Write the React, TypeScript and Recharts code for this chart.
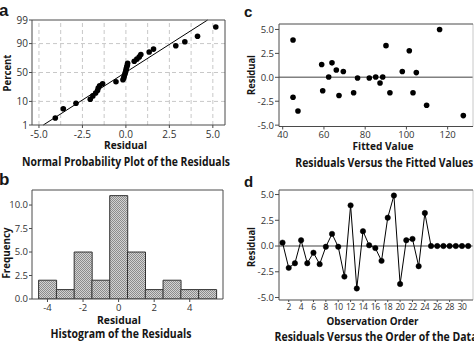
import React from 'react';
import {
  ScatterChart, Scatter, XAxis, YAxis, ReferenceLine, BarChart, Bar, LineChart, Line,
} from 'recharts';

// ---------------- data ----------------
// (a) normal probability plot: sorted residuals and their plotting percents
const probResiduals = [-4.06, -3.6, -2.87, -2.05, -1.9, -1.74, -1.63, -1.59, -1.51, -1.34, -0.57,
  -0.17, -0.12, -0.1, -0.06, -0.03, 0.0, 0.02, 0.05, 0.08, 0.1,
  0.48, 0.63, 0.77, 0.86, 1.34, 1.59, 2.87, 3.39, 4.12, 5.17];
const probPercents = [2.2, 5.4, 8.6, 11.8, 15.0, 18.2, 21.3, 24.5, 27.7, 30.9, 34.1, 37.3, 40.4,
  43.6, 46.8, 50.0, 53.2, 56.4, 59.6, 62.7, 65.9, 69.1, 72.3, 75.5, 78.7, 81.8, 85.0, 88.2,
  91.4, 94.6, 97.8];
const fitLineResidual = [-4.75, 4.7];
const fitLinePercent = [1, 99];
const aXTicks = [-5, -2.5, 0, 2.5, 5];
const aYTickPercents = [1, 10, 50, 90, 99];
const aGridX = [-5, -3.75, -2.5, -1.25, 0, 1.25, 2.5, 3.75, 5];
const aGridPercents = [10, 50, 90];

// (b) histogram
const histBins = [-4, -3, -2, -1, 0, 1, 2, 3, 4, 5];
const histCounts = [2, 1, 5, 2, 11, 5, 1, 2, 1, 1];
const bXTicks = [-4, -2, 0, 2, 4];
const bYTicks = [0, 2.5, 5, 7.5, 10];

// (c) residuals vs fitted
const fittedValues = [45, 45, 47.4, 58.9, 59.4, 62.3, 63.9, 66, 67.3, 69.4, 74.4, 76.3, 82, 85.1,
  87.2, 88.5, 90.1, 92, 98, 101.4, 103.2, 104.8, 109.8, 116.1, 127.6];
const fittedResiduals = [3.9, -2.08, -3.52, 1.34, -1.41, 0.03, 1.51, 0.77, -1.9, 0.6, -1.62, -0.07,
  -0.07, 0.03, -0.6, 0.03, 3.31, -1.62, 0.6, 2.78, -1.62, 0.49, -2.92, 5.0, -4.0];
const cXTicks = [40, 60, 80, 100, 120];
const cYTicks = [-5, -2.5, 0, 2.5, 5];

// (d) residuals vs order
const observationOrder = [1, 2, 3, 4, 5, 6, 7, 8, 9, 10, 11, 12, 13, 14, 15, 16, 17, 18, 19, 20,
  21, 22, 23, 24, 25, 26, 27, 28, 29, 30, 31];
const orderResiduals = [0.33, -2.12, -1.67, 0.56, -1.67, -0.65, -1.76, -0.07, 1.18, -0.07, -2.97,
  3.95, -4.12, 1.44, 0.07, -0.2, -1.44, 2.75, 4.9, -3.69, 0.56, 0.69, -1.96, 3.2,
  0, 0, 0, 0, 0, 0, 0];
const dXTicks = [2, 4, 6, 8, 10, 12, 14, 16, 18, 20, 22, 24, 26, 28, 30];
const dYTicks = [-5, -2.5, 0, 2.5, 5];

// ---------------- helpers ----------------
function probit(p: number): number {
  const a = [-3.969683028665376e+01, 2.209460984245205e+02, -2.759285104469687e+02, 1.383577518672690e+02, -3.066479806614716e+01, 2.506628277459239e+00];
  const b = [-5.447609879822406e+01, 1.615858368580409e+02, -1.556989798598866e+02, 6.680131188771972e+01, -1.328068155288572e+01];
  const c = [-7.784894002430293e-03, -3.223964580411365e-01, -2.400758277161838e+00, -2.549732539343734e+00, 4.374664141464968e+00, 2.938163982698783e+00];
  const d = [7.784695709041462e-03, 3.224671290700398e-01, 2.445134137142996e+00, 3.754408661907416e+00];
  const pl = 0.02425, ph = 1 - pl;
  let q: number, r: number;
  if (p < pl) {
    q = Math.sqrt(-2 * Math.log(p));
    return (((((c[0] * q + c[1]) * q + c[2]) * q + c[3]) * q + c[4]) * q + c[5]) / ((((d[0] * q + d[1]) * q + d[2]) * q + d[3]) * q + 1);
  }
  if (p <= ph) {
    q = p - 0.5; r = q * q;
    return (((((a[0] * r + a[1]) * r + a[2]) * r + a[3]) * r + a[4]) * r + a[5]) * q / (((((b[0] * r + b[1]) * r + b[2]) * r + b[3]) * r + b[4]) * r + 1);
  }
  q = Math.sqrt(-2 * Math.log(1 - p));
  return -(((((c[0] * q + c[1]) * q + c[2]) * q + c[3]) * q + c[4]) * q + c[5]) / ((((d[0] * q + d[1]) * q + d[2]) * q + d[3]) * q + 1);
}

const W = 474, H = 344;
const YW = 30, XH = 24;
const FONT = "'Open Sans', 'DejaVu Sans', sans-serif";
const LETTER_FONT = "'Liberation Sans', Arial, sans-serif";
const FRAME = '#4a4a4a';

type Rect = { x1: number; y1: number; x2: number; y2: number };
const marginFor = (r: Rect) => ({ top: r.y1, left: r.x1 - YW, right: W - r.x2, bottom: H - r.y2 - XH });

const RA: Rect = { x1: 32, y1: 20, x2: 225, y2: 125 };
const RB: Rect = { x1: 32, y1: 190, x2: 223, y2: 299 };
const RC: Rect = { x1: 279, y1: 24, x2: 473, y2: 126.5 };
const RD: Rect = { x1: 279, y1: 190, x2: 473, y2: 300 };

const XA: [number, number] = [-5.4, 5.7];
const YA: [number, number] = [probit(0.01), probit(0.99)];
const XB: [number, number] = [-4.87, 5.87];
const YB: [number, number] = [0, 11.6];
const XC: [number, number] = [38.2, 132.3];
const YC: [number, number] = [-5.14, 5.57];
const XD: [number, number] = [0.43, 31.78];
const YD: [number, number] = [-5.24, 5.44];

const aData = probResiduals.map((x, i) => ({ x, z: probit(probPercents[i] / 100) }));
const aYTicks = aYTickPercents.map((p) => probit(p / 100));
const bData = histBins.map((bin, i) => ({ bin, count: histCounts[i] }));
const cData = fittedValues.map((x, i) => ({ x, y: fittedResiduals[i] }));
const dData = observationOrder.map((o, i) => ({ o, r: orderResiduals[i] }));

const tickStyle = { fontSize: 9.5, fill: '#333', fontFamily: FONT };
const tickLine = { stroke: FRAME };

const Dot = (p: any) => <circle cx={p.cx} cy={p.cy} r={2.8} fill="#000" />;

function frame(xd: [number, number], yd: [number, number], rightColor = FRAME, xAxisId?: string) {
  const extra: any = xAxisId ? { xAxisId } : {};
  return [
    <ReferenceLine key="f1" {...extra} x={xd[0]} stroke={FRAME} ifOverflow="visible" />,
    <ReferenceLine key="f2" {...extra} x={xd[1]} stroke={rightColor} ifOverflow="visible" />,
    <ReferenceLine key="f3" {...extra} y={yd[0]} stroke={FRAME} ifOverflow="visible" />,
    <ReferenceLine key="f4" {...extra} y={yd[1]} stroke={FRAME} ifOverflow="visible" />,
  ];
}

const abs: React.CSSProperties = { position: 'absolute', left: 0, top: 0 };

function T(props: { x: number; y: number; text: string; size: number; len?: number; rotate?: boolean; family?: string; anchor?: string }) {
  const { x, y, text, size, len, rotate, family = FONT, anchor = 'middle' } = props;
  return (
    <text
      x={x}
      y={y}
      fontSize={size}
      fontFamily={family}
      fontWeight="bold"
      textAnchor={anchor as any}
      textLength={len}
      lengthAdjust={len ? 'spacingAndGlyphs' : undefined}
      transform={rotate ? `rotate(-90 ${x} ${y})` : undefined}
      fill="#151515"
    >
      {text}
    </text>
  );
}

export default function App() {
  return (
    <div style={{ position: 'absolute', left: 0, top: 0, width: W, height: H, background: '#fff', overflow: 'hidden' }}>
      <svg width={0} height={0} style={{ position: 'absolute' }}>
        <defs>
          <pattern id="hatch" width={2} height={2} patternUnits="userSpaceOnUse">
            <rect width={2} height={2} fill="#d2d2d2" />
            <rect width={1} height={1} fill="#8c8c8c" />
            <rect x={1} y={1} width={1} height={1} fill="#8c8c8c" />
          </pattern>
        </defs>
      </svg>

      {/* (a) Normal probability plot */}
      <div style={abs}>
        <ScatterChart width={W} height={H} margin={marginFor(RA)}>
          <XAxis type="number" dataKey="x" domain={XA} allowDataOverflow ticks={aXTicks} interval={0}
            tickFormatter={(v: number) => v.toFixed(1)} axisLine={false} tickLine={tickLine}
            tickSize={3} tickMargin={3} height={XH} tick={{ ...tickStyle, fontSize: 10 }} />
          <YAxis type="number" dataKey="z" domain={YA} allowDataOverflow ticks={aYTicks} interval={0}
            tickFormatter={(v: number) => {
              const i = aYTicks.findIndex((z) => Math.abs(z - v) < 1e-6);
              return i >= 0 ? String(aYTickPercents[i]) : '';
            }}
            axisLine={false} tickLine={tickLine} tickSize={3} tickMargin={1} width={YW} tick={{ ...tickStyle, fontSize: 10 }} />
          {aGridX.map((v) => (
            <ReferenceLine key={'gx' + v} x={v} stroke="#c8c8c8" strokeDasharray="4 3" />
          ))}
          {aGridPercents.map((p) => (
            <ReferenceLine key={'gy' + p} y={probit(p / 100)} stroke="#c8c8c8" strokeDasharray="4 3" />
          ))}
          <ReferenceLine
            segment={[
              { x: fitLineResidual[0], y: probit(fitLinePercent[0] / 100) },
              { x: fitLineResidual[1], y: probit(fitLinePercent[1] / 100) },
            ]}
            stroke="#000"
            strokeWidth={1}
            ifOverflow="visible"
          />
          <Scatter data={aData} dataKey="z" shape={Dot} isAnimationActive={false} />
          {frame(XA, YA)}
        </ScatterChart>
      </div>

      {/* (b) Histogram */}
      <div style={abs}>
        <BarChart width={W} height={H} margin={marginFor(RB)} data={bData} barCategoryGap={0} barGap={0}>
          <XAxis xAxisId="cat" dataKey="bin" type="category" hide height={0} orientation="top"
            padding={{ left: 6.6, right: 6.6 }} />
          <XAxis xAxisId="num" dataKey="bin" type="number" domain={XB} allowDataOverflow ticks={bXTicks}
            interval={0} axisLine={false} tickLine={tickLine} tickSize={3} tickMargin={2} height={XH} tick={tickStyle} />
          <YAxis type="number" domain={YB} allowDataOverflow ticks={bYTicks} interval={0}
            tickFormatter={(v: number) => v.toFixed(1)} axisLine={false} tickLine={tickLine}
            tickSize={3} tickMargin={1} width={YW} tick={tickStyle} />
          <Bar xAxisId="cat" dataKey="count" fill="url(#hatch)" stroke="#333" strokeWidth={1} isAnimationActive={false} />
          {frame(XB, YB, FRAME, 'num')}
        </BarChart>
      </div>

      {/* (c) Residuals vs fitted */}
      <div style={abs}>
        <ScatterChart width={W} height={H} margin={marginFor(RC)}>
          <XAxis type="number" dataKey="x" domain={XC} allowDataOverflow ticks={cXTicks} interval={0}
            axisLine={false} tickLine={tickLine} tickSize={3} tickMargin={2} height={XH} tick={tickStyle} />
          <YAxis type="number" dataKey="y" domain={YC} allowDataOverflow ticks={cYTicks} interval={0}
            tickFormatter={(v: number) => v.toFixed(1)} axisLine={false} tickLine={tickLine}
            tickSize={4} tickMargin={1} width={YW} tick={tickStyle} />
          <ReferenceLine y={0} stroke="#808080" strokeWidth={1.5} />
          <Scatter data={cData} dataKey="y" shape={Dot} isAnimationActive={false} />
          {frame(XC, YC, '#c8c8c8')}
        </ScatterChart>
      </div>

      {/* (d) Residuals vs order */}
      <div style={abs}>
        <LineChart width={W} height={H} margin={marginFor(RD)} data={dData}>
          <XAxis type="number" dataKey="o" domain={XD} allowDataOverflow ticks={dXTicks} interval={0}
            axisLine={false} tickLine={tickLine} tickSize={2} tickMargin={2} height={XH}
            tick={{ ...tickStyle, fontSize: 8.5, letterSpacing: -0.3 }} />
          <YAxis type="number" domain={YD} allowDataOverflow ticks={dYTicks} interval={0}
            tickFormatter={(v: number) => v.toFixed(1)} axisLine={false} tickLine={tickLine}
            tickSize={4} tickMargin={1} width={YW} tick={tickStyle} />
          <ReferenceLine y={0} stroke="#808080" strokeWidth={1.5} />
          <Line type="linear" dataKey="r" stroke="#000" strokeWidth={1}
            dot={{ r: 2.7, fill: '#000', stroke: '#000', strokeWidth: 0.5 }} isAnimationActive={false} />
          {frame(XD, YD, '#c8c8c8')}
        </LineChart>
      </div>

      {/* text overlay */}
      <svg width={W} height={H} style={{ ...abs, pointerEvents: 'none' }}>
        <T x={-1} y={16} text="a" size={17} family={LETTER_FONT} anchor="start" />
        <T x={-1} y={185} text="b" size={17} family={LETTER_FONT} anchor="start" />
        <T x={244} y={17} text="c" size={15} family={LETTER_FONT} anchor="start" />
        <T x={244} y={187} text="d" size={15} family={LETTER_FONT} anchor="start" />

        <T x={11} y={73} text="Percent" size={10.5} len={37} rotate />
        <T x={125.5} y={149.3} text="Residual" size={10.5} len={43} />
        <T x={126} y={165.7} text="Normal Probability Plot of the Residuals" size={12.5} len={208} />

        <T x={10} y={253} text="Frequency" size={10.5} len={51} rotate />
        <T x={119} y={323.5} text="Residual" size={10.5} len={44} />
        <T x={121} y={337.6} text="Histogram of the Residuals" size={12.5} len={141} />

        <T x={255} y={75} text="Residual" size={10.5} len={40} rotate />
        <T x={383} y={150} text="Fitted Value" size={10.5} len={61} />
        <T x={384.3} y={166.5} text="Residuals Versus the Fitted Values" size={12.5} len={178} />

        <T x={255.3} y={247} text="Residual" size={10.5} len={40} rotate />
        <T x={372.5} y={325.3} text="Observation Order" size={10.5} len={92} />
        <T x={376} y={340.5} text="Residuals Versus the Order of the Data" size={12.5} len={203} />
      </svg>
    </div>
  );
}
